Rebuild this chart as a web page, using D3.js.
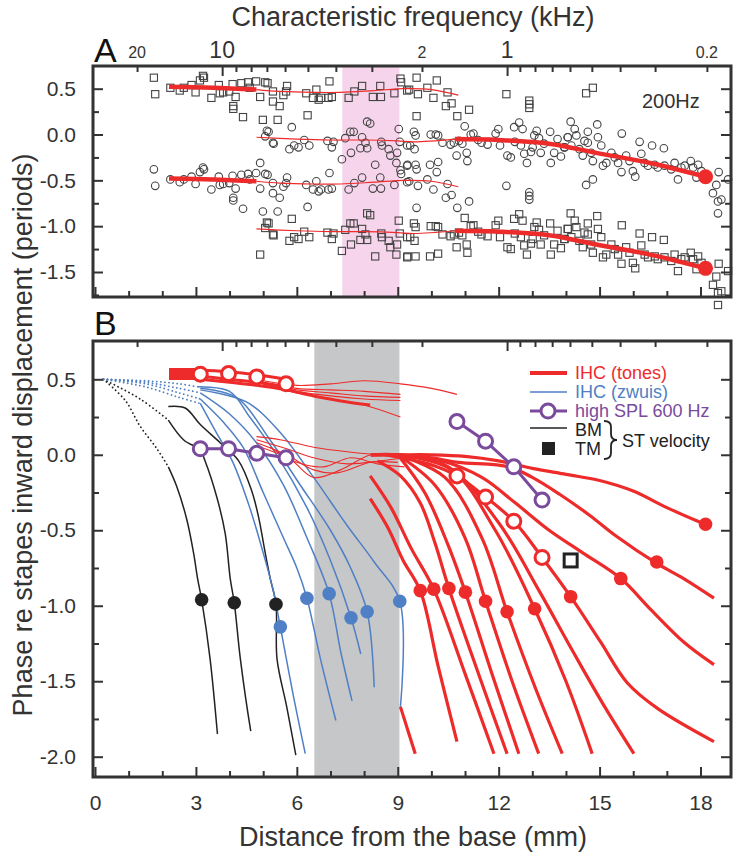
<!DOCTYPE html>
<html><head><meta charset="utf-8">
<script src="https://cdn.jsdelivr.net/npm/d3@7"></script>
<style>body{margin:0;background:#fff;} text{font-family:"Liberation Sans",Arial,sans-serif;}</style>
</head><body><svg id="c" width="737" height="853"></svg>
<script>
// ---------- DATA ----------
const distTicks = [0,3,6,9,12,15,18];
const distMinor = [1,2,4,5,7,8,10,11,13,14,16,17];
const phaseTicksA = [0.5,0,-0.5,-1,-1.5];
const phaseMinorA = [0.25,-0.25,-0.75,-1.25,-1.75];
const phaseTicksB = [0.5,0,-0.5,-1,-1.5,-2];
const phaseMinorB = [0.25,-0.25,-0.75,-1.25,-1.75];
const cfValues = [20,10,9,8,7,6,5,4,3,2,1,0.9,0.8,0.7,0.6,0.5,0.4,0.3,0.2];
const cfDistance = [1.25,3.78,4.19,4.64,5.11,5.65,6.33,7.16,8.23,9.72,12.25,12.63,13.08,13.59,14.12,14.77,15.61,16.65,18.19];
const cfLabelled = ["20","10","2","1","0.2"];
const cfMajor = [10,1];

// Panel A: 200 Hz phase data (basal set: squares at phase, circles at phase-1)
const basalPhase = [
[1.75,0.62],[1.79,0.44],[2.24,0.51],[2.52,0.48],[2.64,0.51],[2.87,0.54],[2.99,0.46],[3.12,0.59],[3.21,0.64],[3.24,0.62],
[3.46,0.40],[3.68,0.54],[3.71,0.45],[3.81,0.46],[3.99,0.47],[4.09,0.55],[4.11,0.31],[4.11,0.28],[4.18,0.41],[4.40,0.19],
[4.35,0.56],[4.55,0.57],[4.60,0.51],[4.79,0.58],[4.91,0.41],[5.06,0.57],[5.13,0.56],[5.29,0.47],[5.29,0.36],[5.49,0.31],
[5.60,0.43],[5.68,0.47],[5.71,0.53],[4.99,0.16],[5.43,0.16],[6.32,0.21],[6.28,0.45],[6.48,0.40],[6.58,0.49],[6.65,0.38],
[6.72,0.40],[6.97,0.58],[6.94,0.40],[7.04,0.41],[7.54,0.40],[7.71,0.47],[7.94,0.53],[8.26,0.41],[8.48,0.53],[8.50,0.41],
[8.90,0.45],[9.08,0.61],[9.10,0.57],[9.28,0.48],[9.56,0.62],[9.34,0.49],[9.60,0.44],[9.88,0.51],[10.06,0.40],[10.16,0.59],
[10.48,0.46],[10.43,0.31],[10.60,0.34],[9.56,0.20],[10.77,0.20],[11.12,0.27],[12.23,0.44],[12.91,0.37],[12.91,0.33],[12.91,0.29],
[14.60,0.45],[14.80,0.51]];
// apical set: circles at phase, squares at phase-1
const apicalPhase = [
[5.85,0.08],[5.11,0.04],[5.16,0.03],[5.06,-0.02],[5.29,-0.09],[5.31,-0.10],[5.78,-0.16],[5.92,-0.12],[6.05,-0.14],[6.22,-0.06],
[6.37,-0.12],[6.91,-0.07],[7.04,-0.14],[7.09,-0.08],[7.34,-0.27],[7.44,-0.04],[7.59,0.03],[7.69,0.03],[7.61,-0.20],[7.94,-0.03],
[7.89,-0.15],[8.04,-0.09],[8.09,-0.15],[8.09,0.14],[8.18,0.12],[8.33,-0.33],[8.51,-0.08],[8.53,-0.12],[8.73,-0.16],[8.78,-0.23],
[8.98,-0.20],[9.03,0.06],[9.06,-0.08],[8.96,-0.31],[9.28,-0.12],[9.28,-0.34],[4.91,-0.31],
[9.48,0.03],[9.53,-0.01],[9.37,-0.12],[9.50,-0.16],[9.98,0.00],[10.13,0.00],[10.20,-0.01],[10.33,-0.09],[10.57,-0.11],[10.67,-0.09],
[10.75,-0.23],[10.82,-0.07],[10.92,-0.10],[10.99,0.09],[11.05,-0.20],[11.07,-0.29],[11.17,0.00],[11.25,0.01],[11.39,-0.06],[11.49,-0.09],
[11.67,-0.11],[11.91,0.01],[11.99,0.06],[12.04,-0.12],[12.26,-0.23],[12.36,-0.25],[12.46,0.08],[12.48,-0.08],[12.61,0.13],[12.71,0.06],
[12.66,-0.12],[12.84,-0.31],[12.76,-0.21],[12.96,-0.19],[13.01,-0.14],[13.06,-0.01],[13.13,0.04],[13.20,-0.04],[13.35,-0.10],[13.25,-0.20],
[13.53,0.03],[13.55,-0.31],[13.65,-0.20],[13.75,-0.05],[13.85,-0.24],[13.95,-0.14],[14.05,-0.03],[9.29,-0.33],[9.53,-0.33],[9.96,-0.33],[10.20,-0.30],
[14.14,0.14],[14.26,0.06],[14.06,-0.03],[13.96,-0.14],[14.16,-0.12],[14.31,-0.01],[14.40,-0.16],[14.50,-0.23],[14.55,-0.07],[14.65,0.03],
[14.65,-0.09],[14.75,-0.20],[14.80,-0.29],[14.93,0.11],[14.95,-0.03],[15.05,-0.12],[15.10,-0.34],[15.20,-0.31],[15.35,-0.20],[15.45,-0.25],
[15.55,-0.31],[15.66,0.01],[15.65,-0.41],[15.79,-0.23],[15.89,-0.29],[15.99,-0.40],[16.06,-0.46],[16.19,-0.08],[16.24,-0.21],[16.34,-0.31],
[16.44,-0.34],[16.56,-0.12],[16.64,-0.33],[16.73,-0.36],[16.91,-0.15],[16.93,-0.34],[17.13,-0.38],[17.23,-0.31],[17.33,-0.49],[17.43,-0.36],
[17.53,-0.34],[17.71,-0.29],[17.78,-0.36],[17.88,-0.47],[17.93,-0.33],[18.03,-0.40],[18.54,-0.41],[18.82,-0.49],[18.47,-0.55],[18.37,-0.64],
[18.52,-0.73],[18.62,-0.71],[18.52,-0.86]];
const basalFitThick = [[2.2,0.52],[3.5,0.51],[4.8,0.49]];
const basalFitThin = [[4.8,0.49],[5.5,0.47],[6.5,0.46],[7.3,0.46],[8.3,0.48],[9.2,0.50],[10.0,0.49],[10.8,0.43]];
const apicalFitThin = [[4.8,-0.03],[6.0,-0.05],[7.0,-0.06],[8.0,-0.06],[9.0,-0.07],[9.5,-0.08],[10.7,-0.05]];
const apicalFitThick = [[10.7,-0.05],[12.0,-0.06],[13.5,-0.10],[14.9,-0.20],[16.5,-0.31],[18.15,-0.46]];
const apicalEnd = [18.15,-0.46];

// Panel B
const ihcTones = [
[[8.18,-0.29],[8.7,-0.48],[9.16,-0.70],[9.67,-0.90],[10.2,-1.40],[10.76,-1.90]],
[[8.18,-0.14],[8.8,-0.35],[9.4,-0.62],[10.07,-0.89],[11.0,-1.45],[11.86,-1.98]],
[[8.4,-0.04],[9.08,-0.14],[9.67,-0.32],[10.1,-0.58],[10.52,-0.885],[11.4,-1.45],[12.25,-1.98]],
[[9.0,0.0],[9.8,-0.25],[10.5,-0.60],[11.01,-0.91],[11.8,-1.45],[12.6,-1.98]],
[[9.0,0.0],[10.1,-0.20],[11.0,-0.55],[11.61,-0.97],[12.4,-1.50],[13.19,-1.98]],
[[9.0,0.0],[10.4,-0.15],[11.5,-0.55],[12.25,-1.04],[13.1,-1.55],[13.89,-1.98]],
[[9.0,0.0],[10.6,-0.10],[11.9,-0.50],[13.07,-1.02],[14.0,-1.50],[14.78,-1.98]],
[[9.0,0.0],[10.5,-0.08],[12.0,-0.45],[13.2,-0.90],[14.2,-1.30],[15.1,-1.65],[16.02,-1.98]],
[[8.6,0.0],[9.9,-0.06],[10.76,-0.14],[11.61,-0.28],[12.45,-0.44],[13.29,-0.68],[14.14,-0.94],[15.03,-1.24],[15.82,-1.51],[16.72,-1.68],[18.4,-1.90]],
[[8.2,0.0],[9.0,0.0],[10.3,-0.04],[11.5,-0.15],[12.5,-0.32],[13.5,-0.50],[14.5,-0.65],[15.63,-0.82],[16.5,-1.02],[17.5,-1.24],[18.4,-1.39]],
[[8.2,0.0],[9.0,0.0],[10.0,-0.02],[10.8,-0.05],[12.3,-0.08],[13.0,-0.15],[13.8,-0.26],[14.7,-0.40],[15.5,-0.54],[16.7,-0.72],[17.5,-0.82],[18.4,-0.95]],
[[8.2,0.0],[9.0,0.0],[10.0,0.0],[11.0,-0.01],[12.0,-0.04],[13.0,-0.09],[14.0,-0.13],[15.0,-0.17],[16.0,-0.24],[17.0,-0.35],[18.15,-0.46],[18.3,-0.47]],
[[9.08,-1.67],[9.52,-1.98]]];
const ihcToneDots = [[9.67,-0.90],[10.07,-0.89],[10.52,-0.885],[11.01,-0.91],[11.61,-0.97],[12.25,-1.04],[13.07,-1.02],[14.14,-0.94],[15.63,-0.82],[16.70,-0.71],[18.15,-0.46]];
const ihcThinUpper = [
[[5.0,0.49],[6.0,0.46],[7.0,0.47],[8.0,0.49],[9.08,0.47],[10.0,0.44],[10.76,0.40]],
[[5.0,0.48],[6.0,0.44],[7.0,0.43],[8.0,0.42],[9.08,0.40]],
[[5.0,0.47],[6.0,0.43],[7.0,0.41],[8.0,0.39],[9.08,0.38]],
[[5.0,0.47],[6.0,0.42],[7.0,0.39],[8.0,0.37],[9.08,0.36]],
[[5.0,0.46],[6.0,0.41],[7.0,0.37],[8.0,0.33],[9.08,0.25]]];
const ihcThinLower = [
[[4.8,0.12],[5.5,0.10],[6.5,0.05],[7.5,0.02],[8.5,0.0],[9.0,0.0]],
[[4.8,0.10],[5.7,0.04],[6.5,-0.02],[7.5,-0.06],[8.5,-0.04],[9.2,-0.02]],
[[4.8,0.08],[5.7,0.0],[6.5,-0.10],[7.2,-0.12],[8.2,-0.05],[9.0,-0.05]],
[[4.8,0.06],[5.8,-0.03],[6.5,-0.15],[7.3,-0.10],[8.2,0.0],[9.0,0.0]],
[[5.2,0.05],[6.0,-0.05],[6.8,-0.08],[7.6,-0.02],[8.4,-0.06],[9.2,-0.08]]];
const ihcThickUpper = [
[[2.2,0.56],[3.13,0.56],[3.97,0.55],[4.81,0.53],[5.68,0.50]],
[[2.2,0.52],[3.13,0.52],[3.97,0.50],[4.81,0.48],[5.68,0.45]],
[[3.13,0.50],[4.0,0.48],[4.8,0.46],[5.68,0.43],[6.5,0.39],[7.5,0.35],[8.18,0.33]]];
const ihcBlock = [[2.2,0.535],[3.13,0.535]];
const highSplRed = [[3.13,0.534],[3.97,0.538],[4.81,0.516],[5.68,0.47]];
const highSplRedApical = [[10.76,-0.14],[11.61,-0.28],[12.45,-0.44],[13.29,-0.68]];
const highSpl600 = [[3.13,0.04],[3.97,0.04],[4.81,0.01],[5.68,-0.02]];
const highSpl600Apical = [[10.76,0.22],[11.61,0.09],[12.45,-0.08],[13.29,-0.30]];
const zwuisDotted = [
[[0.25,0.50],[1.5,0.49],[2.5,0.47],[3.03,0.45]],
[[0.25,0.50],[1.5,0.48],[2.5,0.44],[3.13,0.41]],
[[0.25,0.50],[1.5,0.47],[2.5,0.41],[3.13,0.37]],
[[0.25,0.50],[1.5,0.45],[2.5,0.38],[3.13,0.34]]];
const zwuis = [
[[3.13,0.34],[3.6,0.15],[4.1,-0.05],[4.6,-0.35],[5.0,-0.65],[5.3,-0.90],[5.51,-1.14],[5.9,-1.60],[6.25,-1.98]],
[[3.13,0.37],[3.8,0.22],[4.4,0.05],[5.0,-0.25],[5.6,-0.55],[6.0,-0.75],[6.30,-0.95],[6.7,-1.35],[7.16,-1.76]],
[[3.13,0.41],[4.0,0.27],[4.8,0.08],[5.6,-0.20],[6.3,-0.55],[6.96,-0.92],[7.3,-1.30],[7.64,-1.63]],
[[3.03,0.45],[4.0,0.42],[4.6,0.25],[5.4,0.0],[6.3,-0.35],[7.0,-0.70],[7.61,-1.08],[7.9,-1.32]],
[[3.13,0.44],[4.2,0.38],[5.2,0.10],[6.1,-0.20],[7.0,-0.50],[7.6,-0.75],[8.09,-1.04],[8.30,-1.54]],
[[3.13,0.43],[4.5,0.35],[5.5,0.15],[6.5,-0.15],[7.5,-0.47],[8.3,-0.71],[9.06,-0.97],[9.08,-1.67]]];
const zwuisDots = [[5.51,-1.14],[6.30,-0.95],[6.96,-0.92],[7.61,-1.08],[8.09,-1.04],[9.06,-0.97]];
const bmDotted = [
[[0.25,0.50],[0.9,0.36],[1.34,0.19],[1.84,0.04],[2.18,-0.08]],
[[0.25,0.50],[1.34,0.37],[2.18,0.23]]];
const bm = [
[[2.18,-0.08],[2.43,-0.21],[2.73,-0.43],[2.93,-0.65],[3.05,-0.82],[3.17,-0.96],[3.42,-1.35],[3.64,-1.85]],
[[2.18,0.23],[2.63,0.10],[3.13,0.03],[3.27,-0.04],[3.62,-0.28],[3.87,-0.52],[4.02,-0.82],[4.14,-0.98],[4.32,-1.35],[4.63,-1.83]],
[[2.18,0.32],[2.68,0.31],[3.13,0.20],[3.72,0.08],[4.27,-0.04],[4.66,-0.24],[4.86,-0.41],[5.06,-0.65],[5.21,-0.82],[5.38,-0.99],[5.41,-1.35],[5.70,-1.67],[5.97,-1.99]]];
const bmDots = [[3.17,-0.96],[4.14,-0.98],[5.38,-0.99]];
const tmPoint = [14.14,-0.70];
const bandA = [7.35,9.05];
const bandB = [6.52,9.05];
const legendItems = ["IHC (tones)","IHC (zwuis)","high SPL 600 Hz","BM","TM"];

// ---------- DRAW ----------
const RED="#ee2b2b", BLUE="#4f7fc4", PURPLE="#7a4a9c", BLK="#222", AX="#333";
const svg = d3.select("#c");
const xS = d3.scaleLinear().domain([0,18]).range([95,700.5]);
const yA = d3.scaleLinear().domain([-1.5,0.5]).range([272,88.7]);
const yB = d3.scaleLinear().domain([-2,0.5]).range([756.7,379.3]);
const A = {l:93,r:731,t:66,b:297};
const B = {l:93,r:731,t:341,b:777};

// Bands
svg.append("rect").attr("x",xS(bandA[0])).attr("y",A.t).attr("width",xS(bandA[1])-xS(bandA[0])).attr("height",A.b-A.t).attr("fill","#f6d5ec");
svg.append("rect").attr("x",xS(bandB[0])).attr("y",B.t).attr("width",xS(bandB[1])-xS(bandB[0])).attr("height",B.b-B.t).attr("fill","#c6c7c9");

// Panel A scatter
const gA = svg.append("g");
function sq(g,data,dy){g.selectAll(null).data(data).enter().append("rect")
  .attr("x",d=>xS(d[0])-3.6).attr("y",d=>yA(d[1]+dy)-3.6).attr("width",7.2).attr("height",7.2)
  .attr("fill","none").attr("stroke","#444").attr("stroke-width",1.1);}
function ci(g,data,dy){g.selectAll(null).data(data).enter().append("circle")
  .attr("cx",d=>xS(d[0])).attr("cy",d=>yA(d[1]+dy)).attr("r",3.8)
  .attr("fill","none").attr("stroke","#444").attr("stroke-width",1.1);}
sq(gA,basalPhase,0); ci(gA,basalPhase,-1);
ci(gA,apicalPhase,0); sq(gA,apicalPhase,-1);
const lineA = (dy)=>d3.line().x(d=>xS(d[0])).y(d=>yA(d[1]+dy)).curve(d3.curveCatmullRom);
[0,-1].forEach(dy=>{
  gA.append("path").attr("d",lineA(dy)(basalFitThin)).attr("fill","none").attr("stroke",RED).attr("stroke-width",1.2);
  gA.append("path").attr("d",lineA(dy)(apicalFitThin)).attr("fill","none").attr("stroke",RED).attr("stroke-width",1.2);
  gA.append("path").attr("d",lineA(dy)(basalFitThick)).attr("fill","none").attr("stroke",RED).attr("stroke-width",4.5);
  gA.append("path").attr("d",lineA(dy)(apicalFitThick)).attr("fill","none").attr("stroke",RED).attr("stroke-width",4.5);
  gA.append("circle").attr("cx",xS(apicalEnd[0])).attr("cy",yA(apicalEnd[1]+dy)).attr("r",7.5).attr("fill",RED);
});

// Panel B lines
const gB = svg.append("g");
const lineB = d3.line().x(d=>xS(d[0])).y(d=>yB(d[1])).curve(d3.curveCatmullRom);
function drawLines(data,color,w,dash){data.forEach(p=>{const e=gB.append("path").attr("d",lineB(p)).attr("fill","none")
  .attr("stroke",color).attr("stroke-width",w).attr("stroke-linejoin","round");
  if(dash) e.attr("stroke-dasharray",dash).attr("stroke-linecap","round");});}
drawLines(bmDotted,BLK,1.8,"0.1,4");
drawLines(zwuisDotted,BLUE,1.8,"0.1,4");
drawLines(bm,BLK,1.5);
drawLines(zwuis,BLUE,1.5);
drawLines(ihcThinUpper,RED,1.1);
drawLines(ihcThinLower,RED,1.1);
drawLines(ihcThickUpper,RED,3);
gB.append("path").attr("d",d3.line().x(d=>xS(d[0])).y(d=>yB(d[1]))(ihcBlock)).attr("stroke",RED).attr("stroke-width",12).attr("fill","none");
drawLines(ihcTones,RED,3.2);
function dots(data,color,r){gB.selectAll(null).data(data).enter().append("circle")
  .attr("cx",d=>xS(d[0])).attr("cy",d=>yB(d[1])).attr("r",r).attr("fill",color);}
dots(bmDots,BLK,6.8); dots(zwuisDots,BLUE,6.8); dots(ihcToneDots,RED,6.8);
// high SPL
const lin = d3.line().x(d=>xS(d[0])).y(d=>yB(d[1]));
function openC(data,color,joined){
  if(joined) gB.append("path").attr("d",lin(data)).attr("fill","none").attr("stroke",color).attr("stroke-width",3);
  gB.selectAll(null).data(data).enter().append("circle").attr("cx",d=>xS(d[0])).attr("cy",d=>yB(d[1])).attr("r",7)
    .attr("fill","#fff").attr("stroke",color).attr("stroke-width",3);}
openC(highSplRed,RED,false); openC(highSplRedApical,RED,false);
openC(highSpl600,PURPLE,true); openC(highSpl600Apical,PURPLE,true);
gB.append("rect").attr("x",xS(tmPoint[0])-6.5).attr("y",yB(tmPoint[1])-6.5).attr("width",13).attr("height",13)
  .attr("fill","none").attr("stroke",BLK).attr("stroke-width",3);

// Frames
[A,B].forEach(P=>svg.append("rect").attr("x",P.l).attr("y",P.t).attr("width",P.r-P.l).attr("height",P.b-P.t)
  .attr("fill","none").attr("stroke",AX).attr("stroke-width",3));

// Axes
function ax(gen,tx,ty,labels){const g=svg.append("g").attr("transform",`translate(${tx},${ty})`).call(gen);
  g.select(".domain").remove(); g.selectAll(".tick line").attr("stroke",AX).attr("stroke-width",2);
  g.selectAll("text").attr("fill",AX).style("font-size","21px").style("font-family","Liberation Sans, Arial, sans-serif");
  if(!labels) g.selectAll("text").remove(); return g;}
const fmt = d=>d.toFixed(1);
[[A,yA,phaseTicksA,phaseMinorA],[B,yB,phaseTicksB,phaseMinorB]].forEach(([P,ys,maj,mn])=>{
  ax(d3.axisLeft(ys).tickValues(maj).tickFormat(fmt).tickSizeInner(-10).tickPadding(17),P.l,0,true);
  ax(d3.axisLeft(ys).tickValues(mn).tickSizeInner(-6),P.l,0,false);
  ax(d3.axisRight(ys).tickValues(maj).tickSizeInner(-10),P.r,0,false);
  ax(d3.axisRight(ys).tickValues(mn).tickSizeInner(-6),P.r,0,false);
  ax(d3.axisBottom(xS).tickValues(distTicks).tickFormat(d3.format("d")).tickSizeInner(-10).tickPadding(18),0,P.b,P===B);
  ax(d3.axisBottom(xS).tickValues(distMinor).tickSizeInner(-6),0,P.b,false);
  const cfMaj = cfDistance.filter((d,i)=>cfMajor.includes(cfValues[i]));
  const cfMin = cfDistance.filter((d,i)=>!cfMajor.includes(cfValues[i]));
  ax(d3.axisTop(xS).tickValues(cfMaj).tickSizeInner(-10),0,P.t,false);
  ax(d3.axisTop(xS).tickValues(cfMin).tickSizeInner(-6),0,P.t,false);
});
// CF labels
cfLabelled.forEach(lab=>{const i=cfValues.indexOf(+lab); const big=cfMajor.includes(+lab);
  svg.append("text").attr("x",xS(cfDistance[i])).attr("y",58).attr("text-anchor","middle")
   .style("font-size",big?"23px":"16px").attr("fill",AX).text(lab);});

// Titles
svg.append("text").attr("x",413).attr("y",26).attr("text-anchor","middle").style("font-size","27px").attr("fill",AX).text("Characteristic frequency (kHz)");
svg.append("text").attr("x",413).attr("y",846).attr("text-anchor","middle").style("font-size","27px").attr("fill",AX).text("Distance from the base (mm)");
svg.append("text").attr("transform","translate(32,435) rotate(-90)").attr("text-anchor","middle").style("font-size","27px").attr("fill",AX).text("Phase re stapes inward displacement (periods)");
svg.append("text").attr("x",94).attr("y",62).style("font-size","34px").attr("fill","#111").text("A");
svg.append("text").attr("x",94).attr("y",335).style("font-size","34px").attr("fill","#111").text("B");
svg.append("text").attr("x",642).attr("y",108).style("font-size","20px").attr("fill",AX).text("200Hz");

// Legend
const lg = svg.append("g");
const lx0=530, lx1=567, tx=575;
lg.append("line").attr("x1",lx0).attr("x2",lx1).attr("y1",373).attr("y2",373).attr("stroke",RED).attr("stroke-width",4);
lg.append("line").attr("x1",lx0).attr("x2",lx1).attr("y1",392).attr("y2",392).attr("stroke",BLUE).attr("stroke-width",1.5);
lg.append("line").attr("x1",lx0).attr("x2",lx1).attr("y1",411).attr("y2",411).attr("stroke",PURPLE).attr("stroke-width",3);
lg.append("circle").attr("cx",548).attr("cy",411).attr("r",7).attr("fill","#fff").attr("stroke",PURPLE).attr("stroke-width",3);
lg.append("line").attr("x1",lx0).attr("x2",lx1).attr("y1",428).attr("y2",428).attr("stroke",BLK).attr("stroke-width",1.5);
lg.append("rect").attr("x",542).attr("y",442).attr("width",13).attr("height",13).attr("fill",BLK);
const lcol=[RED,BLUE,PURPLE,BLK,BLK], ly=[379,398,417,436,455];
legendItems.forEach((t,i)=>lg.append("text").attr("x",tx).attr("y",ly[i]).style("font-size","18px").attr("fill",lcol[i]).text(t));
lg.append("path").attr("d","M604,421 Q611,421 611,427 L611,434 Q611,440 617,440 Q611,440 611,446 L611,453 Q611,459 604,459")
  .attr("fill","none").attr("stroke",BLK).attr("stroke-width",1.8);
lg.append("text").attr("x",622).attr("y",447).style("font-size","18px").attr("fill",BLK).text("ST velocity");
</script></body></html>
